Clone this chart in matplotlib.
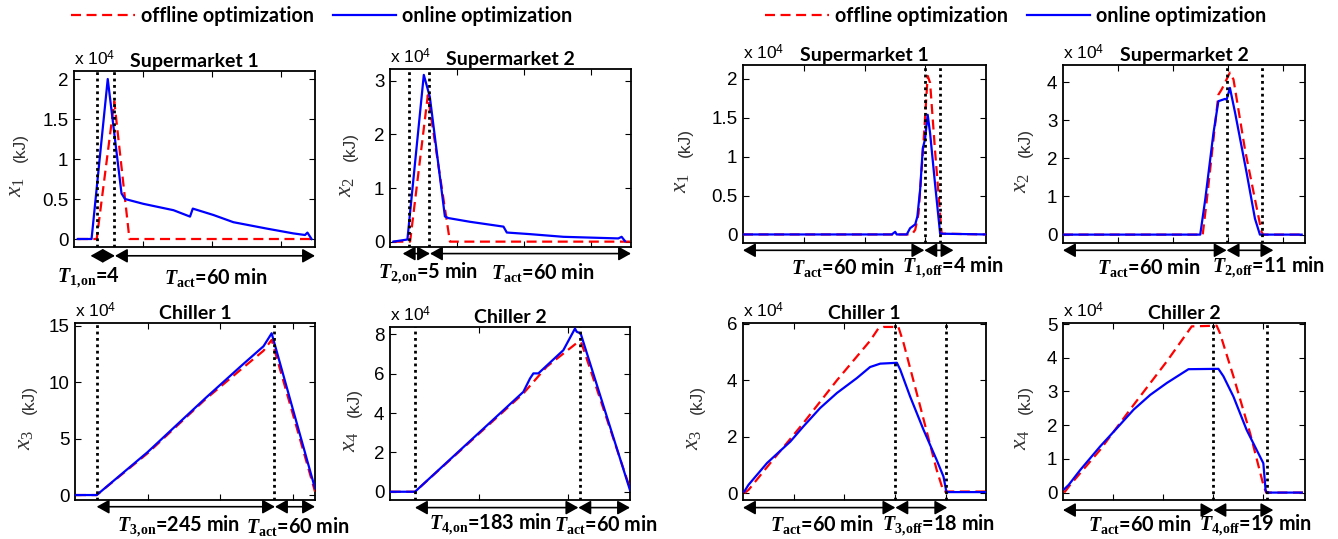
import numpy as np
import matplotlib
matplotlib.use("Agg")
import matplotlib.pyplot as plt
from matplotlib.lines import Line2D
from matplotlib.ticker import FuncFormatter
from matplotlib.transforms import blended_transform_factory

plt.rcParams['mathtext.fontset'] = 'custom'
plt.rcParams['mathtext.rm'] = 'Liberation Serif'
plt.rcParams['mathtext.it'] = 'Liberation Serif:italic'
plt.rcParams['mathtext.bf'] = 'Liberation Serif:bold'
plt.rcParams['mathtext.bfit'] = 'Liberation Serif:italic:bold'
plt.rcParams['mathtext.sf'] = 'Liberation Sans'

# ---------------------------------------------------------------- data (x 10^4 kJ)
# left half: "on" switching
sm1_on_t = [1.1, 5.1, 9.8, 13.8, 14.8, 20.1, 28.9, 33.7, 34.5, 40.5, 46.3, 56.0, 63.7, 67.1, 67.8, 69.0]
sm1_on_x = [0, 0, 2.0, 0.57, 0.50, 0.44, 0.36, 0.28, 0.38, 0.30, 0.21, 0.13, 0.07, 0.05, 0.08, 0.0]
sm1_off_t = [1.1, 6.6, 11.7, 16.1, 70]
sm1_off_x = [0, 0, 1.72, 0, 0]

sm2_on_t = [1.0, 5.2, 10.1, 11.9, 16.4, 17.4, 23.9, 33.9, 34.9, 41.8, 51.8, 68.2, 69.2, 70.2]
sm2_on_x = [0, 0.04, 3.11, 2.7, 0.47, 0.44, 0.37, 0.28, 0.17, 0.14, 0.09, 0.06, 0.09, 0.01]
sm2_off_t = [1.0, 6.0, 11.3, 17.9, 72]
sm2_off_x = [0, 0, 2.73, 0, 0]

ch1_on_t = [1.4, 29.9, 100, 180, 230, 260, 271.2, 331]
ch1_on_x = [0, 0, 3.8, 8.6, 11.5, 13.2, 14.35, 0.59]
ch1_off_t = [1.4, 29.9, 100, 180, 230, 260, 271.2, 331]
ch1_off_x = [0, 0, 3.7, 8.5, 11.2, 12.8, 13.76, 0.3]

ch2_on_t = [0.75, 28.1, 150, 157.5, 161.3, 166.9, 195, 208.1, 210, 214.5, 270]
ch2_on_x = [0, 0, 5.08, 5.76, 6.02, 6.02, 7.2, 8.3, 8.14, 8.05, 0.08]
ch2_off_t = [0.75, 28.1, 150, 176.3, 211.9, 215.6, 270]
ch2_off_x = [0, 0, 5.0, 6.36, 7.63, 7.54, 0.17]

# right half: "off" switching
sm1b_on_t = [0, 49.0, 50.1, 50.6, 53.9, 55.0, 56.7, 57.4, 58.3, 59.2, 59.9, 60.8, 61.6, 63.2, 64.9, 80]
sm1b_on_x = [0, 0, 0.034, 0, 0, 0.08, 0.13, 0.23, 0.57, 1.11, 1.22, 1.54, 1.30, 0.66, 0.01, 0]
sm1b_off_t = [0, 55.6, 56.7, 57.8, 59.4, 60.8, 61.6, 63.2, 65.4, 80]
sm1b_off_x = [0, 0, 0.06, 0.27, 1.17, 2.04, 1.95, 1.09, 0.01, 0]

sm2b_on_t = [0, 49.9, 51.7, 52.9, 54.7, 56.5, 58.9, 59.5, 60.7, 62.6, 66.8, 69.8, 71.6, 86.8]
sm2b_on_x = [0, 0, 0.91, 1.61, 2.66, 3.5, 3.56, 3.54, 3.85, 3.19, 1.61, 0.42, 0, 0]
sm2b_off_t = [0, 50.8, 52.3, 56.5, 57.7, 60.7, 62.0, 66.2, 72.2, 72.8, 88]
sm2b_off_x = [0, 0, 0.91, 3.67, 3.81, 4.25, 4.07, 2.22, 0.07, 0, 0]

ch1b_on_t = [0.5, 2.2, 9.5, 18.7, 23.9, 30.5, 37.1, 45.0, 50.2, 54.2, 60.8, 62.1, 66.0, 71.3, 76.5, 79.2, 80.2, 80.5, 96]
ch1b_on_x = [0.06, 0.30, 1.07, 1.83, 2.37, 3.02, 3.55, 4.08, 4.47, 4.59, 4.62, 4.38, 3.43, 2.25, 1.18, 0.59, 0.12, 0.04, 0.04]
ch1b_off_t = [0.5, 2.2, 10.8, 23.9, 37.1, 50.2, 53.5, 55.5, 61.4, 63.4, 70.0, 76.5, 79.2, 96]
ch1b_off_x = [0, 0.12, 1.07, 2.49, 4.0, 5.4, 5.84, 5.89, 5.89, 5.33, 3.08, 0.83, 0.06, 0.06]

ch2b_on_t = [0.5, 2.3, 6.9, 14.9, 21.6, 28.3, 35.0, 41.6, 50.3, 62.3, 64.3, 68.3, 73.6, 80.3, 81.2, 81.6, 95.7]
ch2b_on_x = [0.1, 0.23, 0.67, 1.37, 1.91, 2.46, 2.90, 3.25, 3.66, 3.67, 3.45, 2.85, 1.86, 0.87, 0.08, 0, 0]
ch2b_off_t = [0.5, 2.9, 14.9, 28.3, 41.6, 51.6, 61.6, 62.9, 68.3, 75.0, 80.3, 81.4, 97]
ch2b_off_x = [0, 0.23, 1.27, 2.6, 3.89, 4.93, 4.95, 4.73, 3.45, 1.76, 0.23, 0, 0]

titles = ['Supermarket 1', 'Supermarket 2', 'Supermarket 1', 'Supermarket 2',
          'Chiller 1', 'Chiller 2', 'Chiller 1', 'Chiller 2']
state_names = [r'$x_1$', r'$x_2$', r'$x_1$', r'$x_2$', r'$x_3$', r'$x_4$', r'$x_3$', r'$x_4$']
unit_label = '(kJ)'
switch_lines = [[6.6, 11.6], [5.8, 11.8], [60.0, 64.9], [59.5, 72.2],
                [29.9, 274.4], [28.1, 213.8], [60.2, 80.0], [60.3, 81.6]]
arrow_spans = [[4.8, 11.9, 70], [3.8, 11.95, 72], [0, 59.7, 69.3], [0, 59.5, 76.5],
               [29.9, 275.8, 331], [28.1, 211.9, 270], [0, 60.2, 80.7], [0, 60.3, 84.3]]
span_labels = [[r'$\mathbfit{T}_{\mathbf{1,\!on}}$=4', r'$\mathbfit{T}_{\mathbf{act}}$=60 min'],
               [r'$\mathbfit{T}_{\mathbf{2,\!on}}$=5 min', r'$\mathbfit{T}_{\mathbf{act}}$=60 min'],
               [r'$\mathbfit{T}_{\mathbf{act}}$=60 min', r'$\mathbfit{T}_{\mathbf{1,\!off}}$=4 min'],
               [r'$\mathbfit{T}_{\mathbf{act}}$=60 min', r'$\mathbfit{T}_{\mathbf{2,\!off}}$=11 min'],
               [r'$\mathbfit{T}_{\mathbf{3,\!on}}$=245 min', r'$\mathbfit{T}_{\mathbf{act}}$=60 min'],
               [r'$\mathbfit{T}_{\mathbf{4,\!on}}$=183 min', r'$\mathbfit{T}_{\mathbf{act}}$=60 min'],
               [r'$\mathbfit{T}_{\mathbf{act}}$=60 min', r'$\mathbfit{T}_{\mathbf{3,\!off}}$=18 min'],
               [r'$\mathbfit{T}_{\mathbf{act}}$=60 min', r'$\mathbfit{T}_{\mathbf{4,\!off}}$=19 min']]
label_pos = [[4.1, 41.2], [11.5, 45.6], [33.0, 69.2], [31.3, 74.8],
             [143.4, 306.9], [113.4, 242.8], [31.3, 77.1], [30.9, 77.0]]

y_ticks = [[0, 0.5, 1, 1.5, 2], [0, 1, 2, 3], [0, 0.5, 1, 1.5, 2], [0, 1, 2, 3, 4],
           [0, 5, 10, 15], [0, 2, 4, 6, 8], [0, 2, 4, 6], [0, 1, 2, 3, 4, 5]]
x_ticks = [[20, 40, 60], [20, 40, 60], [20, 40, 60], [20, 40, 60, 80],
           [100, 200, 300], [100, 200], [20, 40, 60, 80], [20, 40, 60, 80]]

# ---------------------------------------------------------------- layout
W, H = 1338, 539
# pixel boxes (left, top, right, bottom)
boxes = [(74, 71, 315, 247), (390, 69, 631, 247), (743, 65, 986, 243), (1063, 65, 1305, 243),
         (75, 323, 315, 500), (390, 327, 630, 500), (743, 323, 986, 500), (1063, 323, 1305, 500)]
ylims = [(-0.1, 2.1), (-0.1, 3.22), (-0.11, 2.18), (-0.22, 4.45),
         (-0.44, 15.26), (-0.42, 8.38), (-0.24, 6.03), (-0.22, 5.03)]
xlims = [(0, 70), (0, 72), (0, 80), (0, 88), (0, 331), (0, 270), (0, 96), (0, 97)]
ylab_off = [52, 38, 56, 36, 44, 34, 44, 36]   # baseline distance left of the axes, px
arrow_y = [-0.05, -0.037, -0.041, -0.041, -0.038, -0.044, -0.043, -0.057]
text_y = [-0.175, -0.146, -0.135, -0.135, -0.15, -0.144, -0.141, -0.141]

series = [(sm1_on_t, sm1_on_x, sm1_off_t, sm1_off_x), (sm2_on_t, sm2_on_x, sm2_off_t, sm2_off_x),
          (sm1b_on_t, sm1b_on_x, sm1b_off_t, sm1b_off_x), (sm2b_on_t, sm2b_on_x, sm2b_off_t, sm2b_off_x),
          (ch1_on_t, ch1_on_x, ch1_off_t, ch1_off_x), (ch2_on_t, ch2_on_x, ch2_off_t, ch2_off_x),
          (ch1b_on_t, ch1b_on_x, ch1b_off_t, ch1b_off_x), (ch2b_on_t, ch2b_on_x, ch2b_off_t, ch2b_off_x)]

fig = plt.figure(figsize=(W / 100, H / 100), dpi=100)

fmt = FuncFormatter(lambda v, p: '%g' % v)
for i in range(8):
    l, t, r, b = boxes[i]
    ax = fig.add_axes([l / W, 1 - b / H, (r - l) / W, (b - t) / H])
    on_t, on_x, off_t, off_x = series[i]
    ax.plot(off_t, off_x, color='#ff0000', ls=(0, (4.5, 2.5)), lw=1.6, zorder=3)
    ax.plot(on_t, on_x, color='#0000ff', lw=1.6, zorder=4)
    for s in switch_lines[i]:
        ax.axvline(s, color='k', ls=(0, (1, 1.3)), lw=2.0, zorder=5)
    ax.set_xlim(*xlims[i])
    ax.set_ylim(*ylims[i])
    ax.set_xticks(x_ticks[i])
    ax.set_xticklabels([])
    ax.set_yticks(y_ticks[i])
    ax.yaxis.set_major_formatter(fmt)
    ax.tick_params(direction='in', top=True, right=True, length=4, width=0.8,
                   labelsize=13.5, pad=4)
    for lab in ax.get_yticklabels():
        lab.set_family('Liberation Sans')
    for sp in ax.spines.values():
        sp.set_linewidth(1.3)
    ax.set_title(titles[i], fontsize=14, fontweight='bold', family='Lato', pad=3)
    ax.text(0.0, 1.015, r'x 10$^{\mathsf{4}}$', transform=ax.transAxes, fontsize=12.5,
            family='Liberation Sans', ha='left', va='bottom')

    # y label: big italic state name plus smaller unit
    lx = -ylab_off[i] / (r - l)
    ax.text(lx, 0.34, state_names[i], transform=ax.transAxes, rotation=90,
            rotation_mode='anchor', ha='center', va='baseline', fontsize=17, color='#333333')
    ax.text(lx + 3 / (r - l), 0.565, unit_label, transform=ax.transAxes, rotation=90,
            rotation_mode='anchor', ha='center', va='baseline', fontsize=12.5,
            color='#333333', family='Liberation Sans')

    trans = blended_transform_factory(ax.transData, ax.transAxes)
    a0, a1, a2 = arrow_spans[i]
    for x0, x1 in [(a0, a1), (a1, a2)]:
        ax.annotate('', xy=(x1, arrow_y[i]), xytext=(x0, arrow_y[i]),
                    xycoords=trans, textcoords=trans, annotation_clip=False,
                    arrowprops=dict(arrowstyle='<|-|>,head_length=0.75,head_width=0.42',
                                    color='k', lw=1.2, mutation_scale=10,
                                    shrinkA=0, shrinkB=0))
    for txt, xp in zip(span_labels[i], label_pos[i]):
        ax.text(xp, text_y[i], txt, transform=trans, fontsize=14.3, fontweight='bold',
                family='Lato', ha='center', va='center', clip_on=False)

handles = [Line2D([], [], color='#ff0000', ls=(0, (4.5, 2.5)), lw=1.6),
           Line2D([], [], color='#0000ff', lw=1.6)]
names = ['offline optimization', 'online optimization']
for cx in [322 / W, 1016 / W]:
    fig.legend(handles, names, loc='center', bbox_to_anchor=(cx, 1 - 16 / H), ncol=2,
               frameon=False, handlelength=3.2, handletextpad=0.3, columnspacing=1.0,
               prop={'family': 'Lato', 'weight': 'bold', 'size': 14.2})

fig.savefig('out.png', dpi=100)
